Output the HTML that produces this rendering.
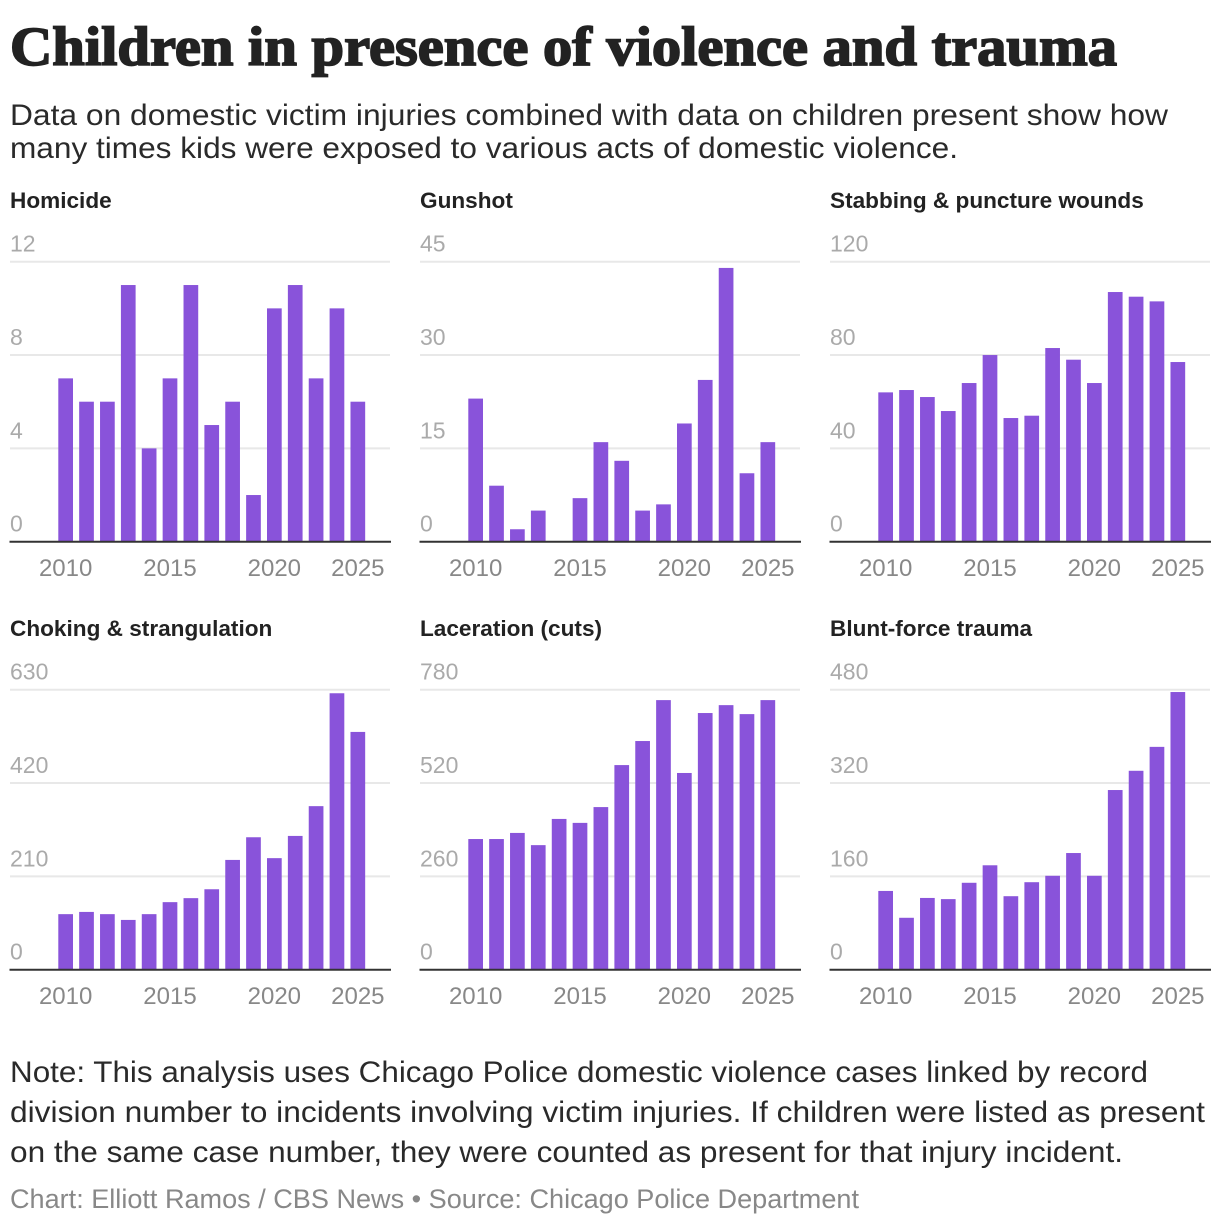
<!DOCTYPE html>
<html lang="en">
<head>
<meta charset="utf-8">
<title>Children in presence of violence and trauma</title>
<style>
html,body{margin:0;padding:0;background:#fff;}
svg{display:block;}
text{font-family:"Liberation Sans",sans-serif;}
.serif{font-family:"Liberation Serif",serif;}
</style>
</head>
<body>
<svg id="chart" xmlns="http://www.w3.org/2000/svg" width="1220" height="1226" viewBox="0 0 1220 1226">
<rect x="0" y="0" width="1220" height="1226" fill="#fff"/>
<text class="serif" x="10" y="65" font-size="55" font-weight="700" fill="#222" stroke="#222" stroke-width="1.7" textLength="1107" lengthAdjust="spacingAndGlyphs">Children in presence of violence and trauma</text>
<text x="10" y="125" font-size="29.5" fill="#2a2a2a" textLength="1158" lengthAdjust="spacingAndGlyphs">Data on domestic victim injuries combined with data on children present show how</text>
<text x="10" y="158" font-size="29.5" fill="#2a2a2a" textLength="948" lengthAdjust="spacingAndGlyphs">many times kids were exposed to various acts of domestic violence.</text>
<g id="panels"></g>
<text x="10" y="1082" font-size="30" fill="#2a2a2a" textLength="1138" lengthAdjust="spacingAndGlyphs">Note: This analysis uses Chicago Police domestic violence cases linked by record</text>
<text x="10" y="1122" font-size="30" fill="#2a2a2a" textLength="1195" lengthAdjust="spacingAndGlyphs">division number to incidents involving victim injuries. If children were listed as present</text>
<text x="10" y="1162" font-size="30" fill="#2a2a2a" textLength="1113" lengthAdjust="spacingAndGlyphs">on the same case number, they were counted as present for that injury incident.</text>
<text x="10" y="1208" font-size="26.5" fill="#888" textLength="849" lengthAdjust="spacingAndGlyphs">Chart: Elliott Ramos / CBS News • Source: Chicago Police Department</text>
</svg>
<script>
const categories = ['2010','2011','2012','2013','2014','2015','2016','2017','2018','2019','2020','2021','2022','2023','2025'];
const xTickLabels = ['2010','2015','2020','2025'];

const homicideValues = [7,6,6,11,4,7,11,5,6,2,10,11,7,10,6];
const gunshotValues = [23,9,2,5,0,7,16,13,5,6,19,26,44,11,16];
const stabbingValues = [64,65,62,56,68,80,53,54,83,78,68,107,105,103,77];
const chokingValues = [125,130,125,112,125,152,161,181,247,298,251,301,368,622,535];
const lacerationValues = [364,364,381,347,420,409,453,570,637,751,548,715,737,712,751];
const bluntValues = [135,89,123,121,149,179,126,150,161,200,161,308,341,382,476];

const homicideTicks = [0,4,8,12];
const gunshotTicks = [0,15,30,45];
const stabbingTicks = [0,40,80,120];
const chokingTicks = [0,210,420,630];
const lacerationTicks = [0,260,520,780];
const bluntTicks = [0,160,320,480];

const panelTitles = ['Homicide','Gunshot','Stabbing & puncture wounds','Choking & strangulation','Laceration (cuts)','Blunt-force trauma'];
const panelSlugs = ['homicide','gunshot','stabbing','choking','laceration','blunt-force'];
const panelValues = [homicideValues,gunshotValues,stabbingValues,chokingValues,lacerationValues,bluntValues];
const panelTicks = [homicideTicks,gunshotTicks,stabbingTicks,chokingTicks,lacerationTicks,bluntTicks];

const NS = 'http://www.w3.org/2000/svg';
const root = document.getElementById('panels');
const PLOT_H = 280;

function make(tag, parent, attrs, txt) {
  const el = document.createElementNS(NS, tag);
  Object.keys(attrs).forEach(function (k) { el.setAttribute(k, attrs[k]); });
  if (txt !== undefined) el.textContent = txt;
  parent.appendChild(el);
  return el;
}

function panelLeft(i) { return 10 + 410 * (i % 3); }
function panelBase(i) { return 541.7 + 428 * Math.floor(i / 3); }
function barLeft(i, idx) { return panelLeft(i) + 48.3 + 20.87 * idx; }
function barCenter(i, idx) { return barLeft(i, idx) + 7.35; }
function yScale(i, v) {
  const t = panelTicks[i];
  return panelBase(i) - v / t[t.length - 1] * PLOT_H;
}

panelTitles.forEach(function (title, i) {
  const left = panelLeft(i);
  const base = panelBase(i);
  const slug = panelSlugs[i];
  const g = make('g', root, {});
  
  

  const head = make('text', g, {x: left, y: base - 333.7, 'font-size': 22.6, 'font-weight': 700, fill: '#222'}, title);
  
  

  panelTicks[i].forEach(function (tick) {
    const y = yScale(i, tick);
    if (tick !== 0) {
      const line = make('line', g, {x1: left, x2: left + 380, y1: y, y2: y, stroke: '#e8e8e8', 'stroke-width': 2});
      
      
    }
    const label = make('text', g, {x: left, y: y - 10, 'font-size': 23, fill: '#aaa'}, String(tick));
    
    
  });

  panelValues[i].forEach(function (v, idx) {
    const top = yScale(i, v);
    const bar = make('rect', g, {x: barLeft(i, idx), y: top, width: 14.7, height: Math.max(0, base - top), fill: '#8953da'});
    
    
  });

  const axis = make('line', g, {x1: left - 0.5, x2: left + 381, y1: base, y2: base, stroke: '#333', 'stroke-width': 2});
  
  

  xTickLabels.forEach(function (lbl) {
    const t = make('text', g, {x: barCenter(i, categories.indexOf(lbl)), y: base + 34.3, 'font-size': 24, fill: '#888', 'text-anchor': 'middle'}, lbl);
    
    
  });
});
</script>
</body>
</html>
